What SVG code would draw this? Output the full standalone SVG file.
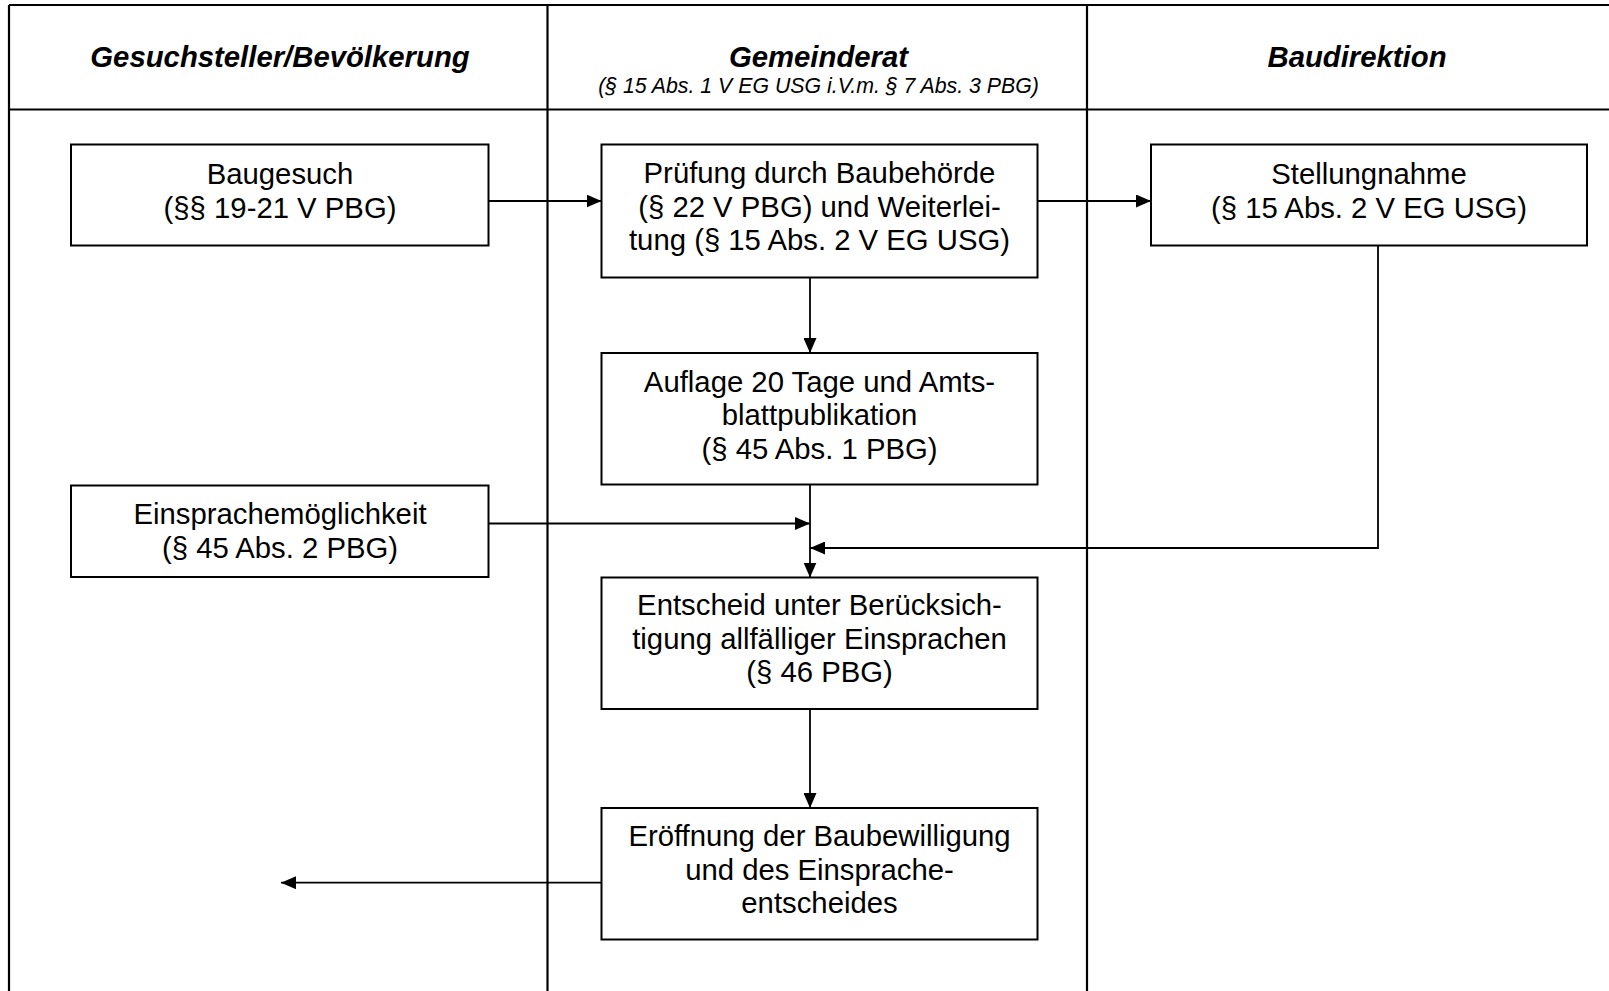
<svg xmlns="http://www.w3.org/2000/svg" width="1609" height="991" viewBox="0 0 1609 991">
<style>
.lane{stroke:#000;stroke-width:2.2;fill:none}
.box{fill:#fff;stroke:#000;stroke-width:2}
.con{stroke:#000;stroke-width:1.8;fill:none}
.t{font-family:"Liberation Sans",Arial,sans-serif;font-size:29.3px;fill:#000;text-anchor:middle}
.h{font-family:"Liberation Sans",Arial,sans-serif;font-size:29.3px;font-weight:bold;font-style:italic;fill:#000;text-anchor:middle}
.s{font-family:"Liberation Sans",Arial,sans-serif;font-size:21.3px;font-style:italic;fill:#000;text-anchor:middle}
</style>
<defs>
<marker id="arr" markerUnits="userSpaceOnUse" markerWidth="15" markerHeight="13" refX="15" refY="6.5" orient="auto">
<path d="M0,0 L15,6.5 L0,13 Z" fill="#000"/>
</marker>
</defs>
<rect x="0" y="0" width="1609" height="991" fill="#fff"/>
<g id="lanes">
<line class="lane" x1="9" y1="5" x2="1609" y2="5"/>
<line class="lane" x1="9" y1="5" x2="9" y2="991"/>
<line class="lane" x1="9" y1="109.5" x2="1609" y2="109.5"/>
<line class="lane" x1="547.5" y1="5" x2="547.5" y2="991"/>
<line class="lane" x1="1087" y1="5" x2="1087" y2="991"/>
<text class="h" x="280" y="67">Gesuchsteller/Bevölkerung</text>
<text class="h" x="818.5" y="67">Gemeinderat</text>
<text class="s" x="818.5" y="93">(§ 15 Abs. 1 V EG USG i.V.m. § 7 Abs. 3 PBG)</text>
<text class="h" x="1357" y="67">Baudirektion</text>
</g>
<g id="connectors">
<line class="con" x1="488.5" y1="201" x2="601.5" y2="201" marker-end="url(#arr)"/>
<line class="con" x1="1037.5" y1="201" x2="1151" y2="201" marker-end="url(#arr)"/>
<line class="con" x1="810" y1="277.5" x2="810" y2="353" marker-end="url(#arr)"/>
<line class="con" x1="810" y1="484.5" x2="810" y2="577.5" marker-end="url(#arr)"/>
<line class="con" x1="488.5" y1="523.5" x2="810" y2="523.5" marker-end="url(#arr)"/>
<polyline class="con" points="1378,245.5 1378,548 810,548" marker-end="url(#arr)"/>
<line class="con" x1="810" y1="709" x2="810" y2="808" marker-end="url(#arr)"/>
<line class="con" x1="601.5" y1="882.7" x2="281" y2="882.7" marker-end="url(#arr)"/>
</g>
<g id="baugesuch">
<rect class="box" x="71" y="144.5" width="417.5" height="101"/>
<text class="t" x="280" y="184">Baugesuch</text>
<text class="t" x="280" y="217.5">(§§ 19-21 V PBG)</text>
</g>
<g id="pruefung">
<rect class="box" x="601.5" y="144.5" width="436" height="133"/>
<text class="t" x="819.5" y="183">Prüfung durch Baubehörde</text>
<text class="t" x="819.5" y="216.5">(§ 22 V PBG) und Weiterlei-</text>
<text class="t" x="819.5" y="250">tung (§ 15 Abs. 2 V EG USG)</text>
</g>
<g id="stellungnahme">
<rect class="box" x="1151" y="144.5" width="436" height="101"/>
<text class="t" x="1369" y="184">Stellungnahme</text>
<text class="t" x="1369" y="217.5">(§ 15 Abs. 2 V EG USG)</text>
</g>
<g id="auflage">
<rect class="box" x="601.5" y="353" width="436" height="131.5"/>
<text class="t" x="819.5" y="391.5">Auflage 20 Tage und Amts-</text>
<text class="t" x="819.5" y="425">blattpublikation</text>
<text class="t" x="819.5" y="458.5">(§ 45 Abs. 1 PBG)</text>
</g>
<g id="einsprache">
<rect class="box" x="71" y="485.5" width="417.5" height="91.5"/>
<text class="t" x="280" y="524">Einsprachemöglichkeit</text>
<text class="t" x="280" y="557.5">(§ 45 Abs. 2 PBG)</text>
</g>
<g id="entscheid">
<rect class="box" x="601.5" y="577.5" width="436" height="131.5"/>
<text class="t" x="819.5" y="615">Entscheid unter Berücksich-</text>
<text class="t" x="819.5" y="648.5">tigung allfälliger Einsprachen</text>
<text class="t" x="819.5" y="682">(§ 46 PBG)</text>
</g>
<g id="eroeffnung">
<rect class="box" x="601.5" y="808" width="436" height="131.5"/>
<text class="t" x="819.5" y="846">Eröffnung der Baubewilligung</text>
<text class="t" x="819.5" y="879.5">und des Einsprache-</text>
<text class="t" x="819.5" y="913">entscheides</text>
</g>
</svg>
